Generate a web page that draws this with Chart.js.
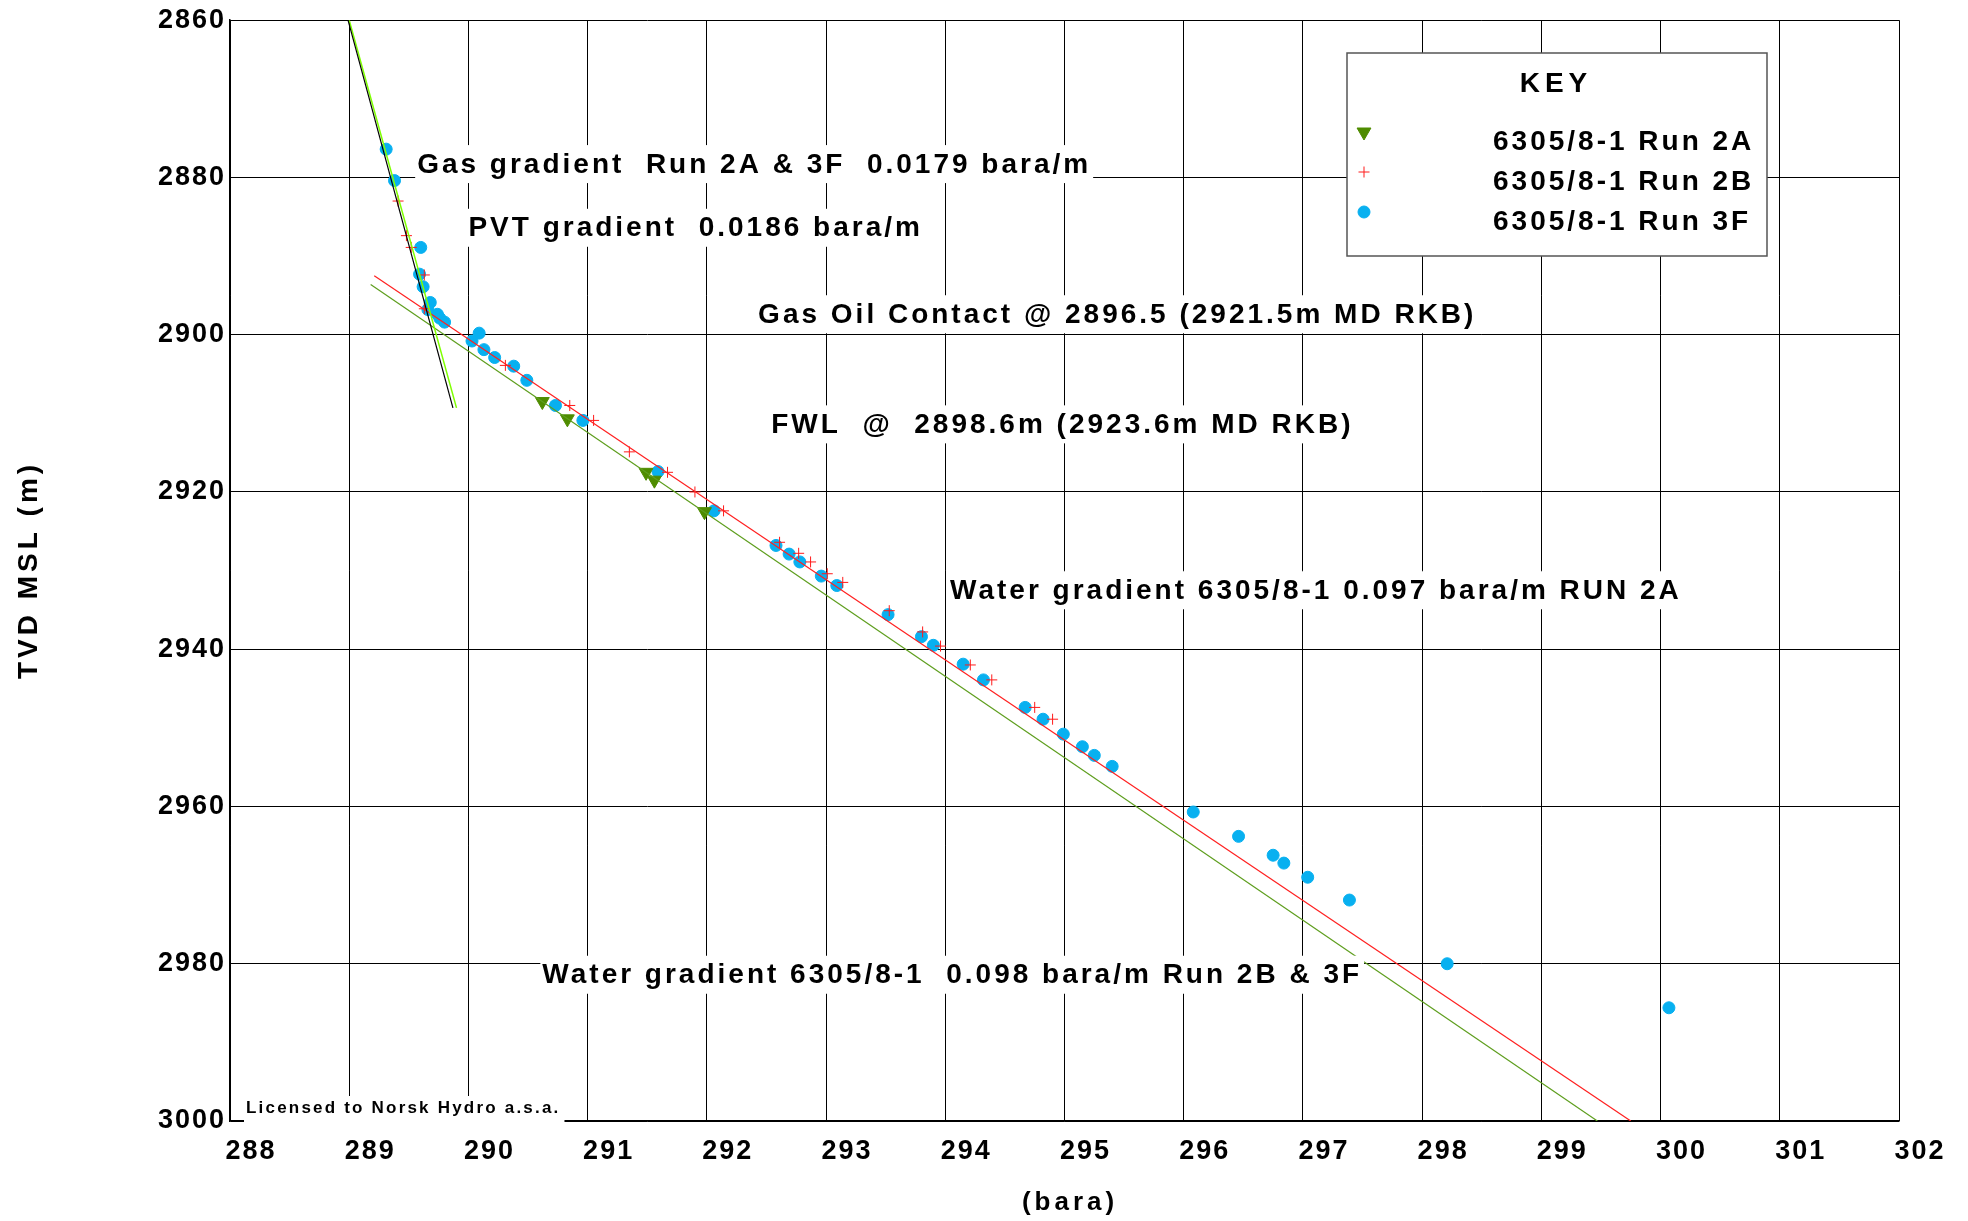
<!DOCTYPE html>
<html>
<head>
<meta charset="utf-8">
<script src="https://cdn.jsdelivr.net/npm/chart.js@4/dist/chart.umd.min.js"></script>
<style>
  body { margin: 0; background: #fff; }
  #chart { display: block; }
</style>
</head>
<body>
<canvas id="chart" width="1968" height="1221"></canvas>
<script>
// axis ticks
const xTicks = [288, 289, 290, 291, 292, 293, 294, 295, 296, 297, 298, 299, 300, 301, 302];
const yTicks = [2860, 2880, 2900, 2920, 2940, 2960, 2980, 3000];

// pressure (bara) / depth (m TVD MSL)
const run2aP = [290.62, 290.83, 291.49, 291.56, 291.98];
const run2aD = [2908.5, 2910.7, 2917.5, 2918.5, 2922.5];

const run2bP = [289.41, 289.48, 289.52, 289.63, 289.63, 290.31, 290.85, 291.05, 291.35, 291.67, 291.90, 292.14,
                292.61, 292.77, 292.87, 293.01, 293.14, 293.53, 293.81, 293.96, 294.21, 294.39, 294.75, 294.90];
const run2bD = [2883.0, 2887.4, 2888.9, 2892.4, 2896.7, 2903.9, 2909.0, 2910.9, 2914.9, 2917.5, 2920.0, 2922.4,
                2926.4, 2927.8, 2928.9, 2930.4, 2931.5, 2935.1, 2937.8, 2939.6, 2942.0, 2943.9, 2947.4, 2948.9];

const run3fP = [289.31, 289.38, 289.60, 289.59, 289.62, 289.68, 289.66, 289.74, 289.76, 289.80, 290.09, 290.03,
                290.13, 290.22, 290.38, 290.49, 290.73, 290.96, 291.59, 292.06, 292.58, 292.69, 292.78, 292.96,
                293.09, 293.52, 293.80, 293.90, 294.15, 294.32, 294.67, 294.82, 294.99, 295.15, 295.25, 295.40,
                296.08, 296.46, 296.75, 296.84, 297.04, 297.39, 298.21, 300.07];
const run3fD = [2876.4, 2880.4, 2888.9, 2892.3, 2893.9, 2895.9, 2896.8, 2897.4, 2897.9, 2898.4, 2899.8, 2900.8,
                2901.9, 2902.9, 2904.0, 2905.8, 2909.0, 2910.9, 2917.4, 2922.4, 2926.8, 2927.9, 2928.9, 2930.7,
                2931.9, 2935.6, 2938.4, 2939.5, 2941.9, 2943.9, 2947.4, 2948.9, 2950.8, 2952.4, 2953.5, 2954.9,
                2960.7, 2963.8, 2966.2, 2967.2, 2969.0, 2971.9, 2980.0, 2985.6];

// gradient lines (end points)
const gasLineP = [288.99, 289.87];
const gasLineD = [2860, 2909.3];
const pvtLineP = [289.00, 289.90];
const pvtLineD = [2860, 2909.3];
const water2aP = [289.18, 299.47];
const water2aD = [2893.6, 3000];
const water2bP = [289.21, 299.75];
const water2bD = [2892.5, 3000];

// text notes on the plot: [text, bara at left edge, depth at centre]
const noteText = ["Gas gradient  Run 2A & 3F  0.0179 bara/m",
                  "PVT gradient  0.0186 bara/m",
                  "Gas Oil Contact @ 2896.5 (2921.5m MD RKB)",
                  "FWL  @  2898.6m (2923.6m MD RKB)",
                  "Water gradient 6305/8-1 0.097 bara/m RUN 2A",
                  "Water gradient 6305/8-1  0.098 bara/m Run 2B & 3F"];
const noteP = [289.57, 290.00, 292.43, 292.54, 294.04, 290.62];
const noteD = [2878.3, 2886.4, 2897.4, 2911.4, 2932.5, 2981.4];

const keyNames = ["6305/8-1 Run 2A", "6305/8-1 Run 2B", "6305/8-1 Run 3F"];

function pts(px, dy) {
    let out = [];
    for (let i = 0; i < px.length; i++) {
        out.push({ x: px[i], y: dy[i] });
    }
    return out;
}

const FONT = '"Liberation Sans", Arial, sans-serif';
const green = '#4f8c00';
const red = '#ff1a1a';
const blue = '#08b0f0';

function line(px, dy, color, w) {
    return {
        data: pts(px, dy), showLine: true, borderColor: color, borderWidth: w,
        pointRadius: 0, pointHoverRadius: 0, fill: false
    };
}

const notesPlugin = {
    id: 'notes',
    beforeDraw(chart) {
        chart.ctx.letterSpacing = '2px';
    },
    afterDatasetsDraw(chart) {
        const ctx = chart.ctx;
        const xs = chart.scales.x, ys = chart.scales.y;
        ctx.save();
        ctx.font = 'bold 28px ' + FONT;
        ctx.letterSpacing = '3px';
        ctx.textBaseline = 'middle';
        ctx.textAlign = 'left';
        for (let i = 0; i < noteText.length; i++) {
            let x = xs.getPixelForValue(noteP[i]);
            let y = ys.getPixelForValue(noteD[i]);
            let w = ctx.measureText(noteText[i]).width;
            ctx.fillStyle = '#fff';
            ctx.fillRect(x - 2, y - 19, w + 4, 38);
            ctx.fillStyle = '#000';
            ctx.fillText(noteText[i], x, y + 1);
        }

        // licence line in the lower left corner
        ctx.font = 'bold 17px ' + FONT;
        ctx.letterSpacing = '2.2px';
        let lw = ctx.measureText('Licensed to Norsk Hydro a.s.a.').width;
        ctx.fillStyle = '#fff';
        ctx.fillRect(244, 1096, lw + 6, 26);
        ctx.fillStyle = '#000';
        ctx.fillText('Licensed to Norsk Hydro a.s.a.', 246, 1108);

        // key box
        ctx.fillStyle = '#fff';
        ctx.fillRect(1347, 53, 420, 203);
        ctx.strokeStyle = '#555';
        ctx.lineWidth = 1.5;
        ctx.strokeRect(1347, 53, 420, 203);
        ctx.fillStyle = '#000';
        ctx.font = 'bold 28px ' + FONT;
        ctx.letterSpacing = '5px';
        ctx.textAlign = 'center';
        ctx.fillText('KEY', 1556, 84);
        ctx.letterSpacing = '3px';
        ctx.textAlign = 'left';
        const styles = [
            { pointStyle: 'triangle', rotation: 180, color: green, r: 8 },
            { pointStyle: 'cross', rotation: 0, color: red, r: 5.5 },
            { pointStyle: 'circle', rotation: 0, color: blue, r: 6 }
        ];
        for (let i = 0; i < keyNames.length; i++) {
            let ty = 142 + i * 40;
            ctx.fillStyle = '#000';
            ctx.fillText(keyNames[i], 1493, ty);
            let s = styles[i];
            ctx.fillStyle = s.color;
            ctx.strokeStyle = s.color;
            ctx.lineWidth = 1;
            Chart.helpers.drawPoint(ctx, { pointStyle: s.pointStyle, rotation: s.rotation, radius: s.r, borderWidth: 1 },
                1364, ty - 10);
        }
        ctx.restore();
    },
    afterDraw(chart) {
        // axis titles
        const ctx = chart.ctx;
        ctx.save();
        ctx.fillStyle = '#000';
        ctx.textAlign = 'center';
        ctx.textBaseline = 'middle';
        ctx.letterSpacing = '4px';
        ctx.font = 'bold 26px ' + FONT;
        ctx.fillText('(bara)', 1070, 1203);
        ctx.font = 'bold 28px ' + FONT;
        ctx.translate(29, 570);
        ctx.rotate(-Math.PI / 2);
        ctx.fillText('TVD MSL (m)', 0, 0);
        ctx.restore();
    }
};

new Chart(document.getElementById('chart'), {
    type: 'scatter',
    data: {
        datasets: [
            line(gasLineP, gasLineD, '#000', 1.2),
            line(pvtLineP, pvtLineD, '#7fff00', 1.5),
            line(water2aP, water2aD, '#5e9e1e', 1.2),
            line(water2bP, water2bD, '#ff2020', 1.2),
            {
                label: keyNames[0], data: pts(run2aP, run2aD), pointStyle: 'triangle', rotation: 180,
                pointRadius: 8, backgroundColor: green, borderColor: green, borderWidth: 1
            },
            {
                label: keyNames[1], data: pts(run2bP, run2bD), pointStyle: 'cross',
                pointRadius: 5.5, borderColor: red, backgroundColor: red, borderWidth: 1
            },
            {
                label: keyNames[2], data: pts(run3fP, run3fD), pointStyle: 'circle',
                pointRadius: 6, backgroundColor: blue, borderColor: blue, borderWidth: 1
            }
        ]
    },
    options: {
        responsive: false,
        animation: false,
        devicePixelRatio: 1,
        layout: { padding: { left: 0, top: 20, right: 69, bottom: 0 } },
        plugins: { legend: { display: false }, tooltip: { enabled: false } },
        scales: {
            x: {
                type: 'linear', min: 288, max: 302,
                afterFit: (s) => { s.height = 100; },
                afterBuildTicks: (s) => { s.ticks = xTicks.map(v => ({ value: v })); },
                grid: { color: '#000', lineWidth: 1, drawTicks: false },
                border: { color: '#000', width: 1.5 },
                ticks: {
                    color: '#000', font: { family: FONT, size: 27, weight: 'bold' },
                    padding: 14, labelOffset: 21, maxRotation: 0,
                    callback: (v) => String(v)
                }
            },
            y: {
                type: 'linear', min: 2860, max: 3000, reverse: true,
                afterFit: (s) => { s.width = 230; },
                afterBuildTicks: (s) => { s.ticks = yTicks.map(v => ({ value: v })); },
                grid: { color: '#000', lineWidth: 1, drawTicks: false },
                border: { color: '#000', width: 1.5 },
                ticks: {
                    color: '#000', font: { family: FONT, size: 27, weight: 'bold' }, padding: 4,
                    callback: (v) => String(v)
                }
            }
        }
    },
    plugins: [notesPlugin]
});
</script>
</body>
</html>
